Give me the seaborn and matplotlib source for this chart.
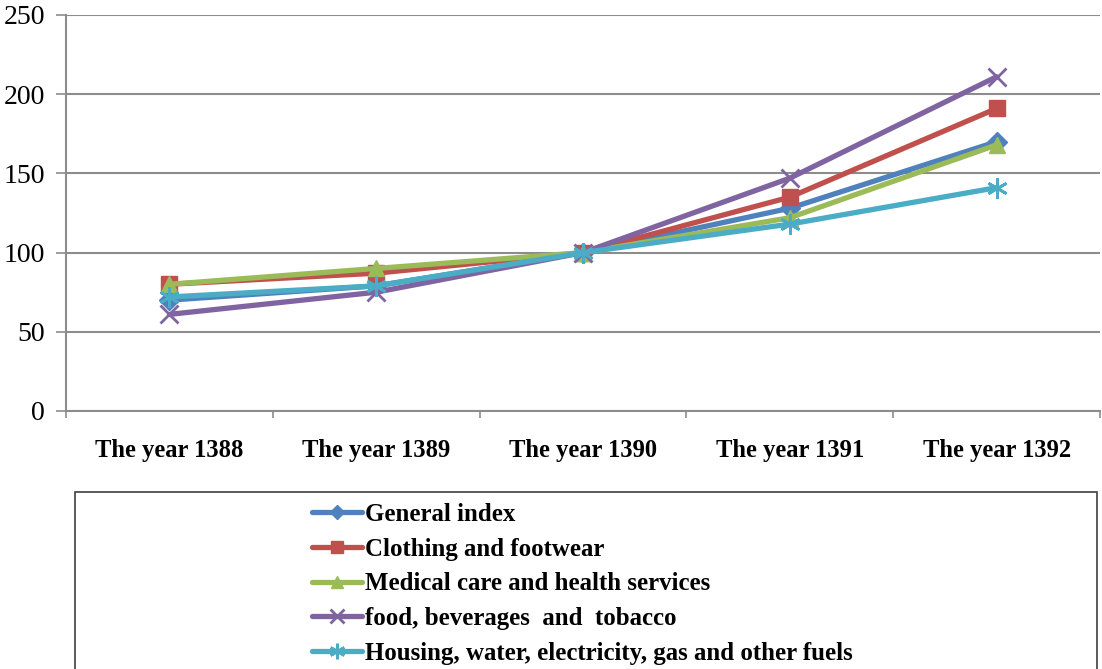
import matplotlib.pyplot as plt
import matplotlib.patches as mpatches
import seaborn as sns

years = ["The year 1388", "The year 1389", "The year 1390", "The year 1391", "The year 1392"]
general_index = [70, 79, 100, 128, 170]
clothing = [80, 87, 100, 135, 191]
medical = [80, 90, 100, 122, 168]
food = [61, 75, 100, 147, 211]
housing = [72, 79, 100, 118, 141]

series_names = [
    "General index",
    "Clothing and footwear",
    "Medical care and health services",
    "food, beverages  and  tobacco",
    "Housing, water, electricity, gas and other fuels",
]
series_values = [general_index, clothing, medical, food, housing]
colors = ["#4F81BD", "#C0504D", "#9BBB59", "#8064A2", "#4BACC6"]
markers = ["D", "s", "^", "x", (6, 2, 0)]
marker_sizes = [10, 12, 12, 13, 15]

sns.set_theme(style="white")
plt.rcParams["font.family"] = ["Liberation Serif", "DejaVu Serif"]
plt.rcParams["text.color"] = "black"
plt.rcParams["xtick.color"] = "black"
plt.rcParams["ytick.color"] = "black"

fig = plt.figure(figsize=(11.02, 6.69), dpi=100)
ax = fig.add_axes([66 / 1102, 1 - 411 / 669, 1034 / 1102, 396 / 669])

for name, vals, c, m, ms in zip(series_names, series_values, colors, markers, marker_sizes):
    sns.lineplot(
        x=years, y=vals, ax=ax, color=c, marker=m, markersize=ms,
        linewidth=3.8, label=name, markeredgecolor=c, markerfacecolor=c,
        markeredgewidth=2.0 if m in ("x", (6, 2, 0)) else 1.0,
    )

ax.set_xlim(-0.5, 4.5)
ax.set_ylim(0, 250)
ax.set_yticks([0, 50, 100, 150, 200, 250])
ax.yaxis.grid(True, color="#8C8C8C", linewidth=1.5)
ax.set_axisbelow(True)
ax.tick_params(axis="y", which="major", left=True, length=7, width=1.2,
               color="#8C8C8C", labelcolor="black", labelsize=20, pad=8)
ax.set_xticks(range(5))
ax.set_xticks([i - 0.5 for i in range(6)], minor=True)
ax.tick_params(axis="x", which="major", length=0, labelsize=17.7, labelcolor="black", pad=20)
ax.tick_params(axis="x", which="minor", bottom=True, length=5, width=1.2, color="#8C8C8C")
for lbl in ax.get_xticklabels():
    lbl.set_fontweight("bold")
ax.set_xlabel("")
ax.set_ylabel("")
for side in ["top", "right"]:
    ax.spines[side].set_visible(False)
ax.spines["left"].set_color("#8C8C8C")
ax.spines["bottom"].set_color("#8C8C8C")
ax.spines["left"].set_linewidth(1.5)
ax.spines["bottom"].set_linewidth(1.5)

handles, labels = ax.get_legend_handles_labels()
if ax.legend_:
    ax.legend_.remove()
fig.legend(
    handles, labels, loc="upper left", bbox_to_anchor=(302 / 1102, 1 - 493 / 669),
    frameon=False, prop={"weight": "bold", "size": 17.9}, markerscale=0.75,
    handlelength=2.0, handletextpad=0.12, labelspacing=0.47, borderaxespad=0,
)

box = mpatches.Rectangle(
    (75 / 1102, -0.05), 1022 / 1102, (669 - 492) / 669 + 0.05,
    transform=fig.transFigure, fill=False, edgecolor="#404040", linewidth=1.2,
)
fig.patches.append(box)

fig.savefig("out.png", dpi=100)
